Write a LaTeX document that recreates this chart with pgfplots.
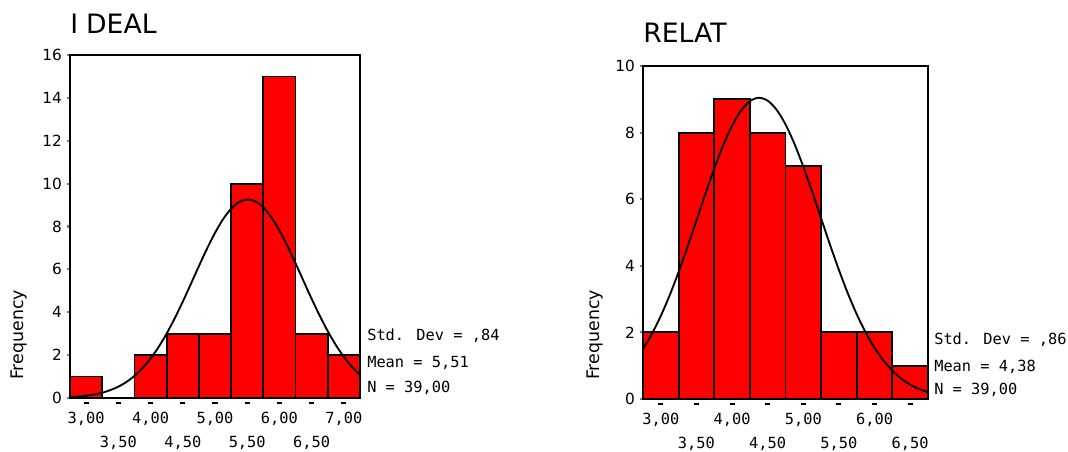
\documentclass[border=0pt]{standalone}
\usepackage{pgfplots}
\pgfplotsset{compat=1.18}
\usepackage{fontspec}
\setmainfont{DejaVu Sans}
\newfontfamily\monof{DejaVu Sans Mono}

% 1 px of the reference = 0.75pt
\pgfplotsset{
  spss/.style={
    scale only axis,
    axis line style={line width=1.5pt},
    ymin=0,
    ytick pos=left,
    tick align=outside,
    major tick length=2.5pt,
    ytick style={line width=1.6pt},
    xtick style={draw=none},
    yticklabel style={font=\fontsize{11.5}{13}\selectfont},
    /pgf/number format/assume math mode=true,
    xticklabel style={font=\monof\fontsize{11.5}{13}\selectfont, anchor=center, yshift=-13.5pt},
    extra x tick style={xticklabel style={yshift=-18pt}},
    xtick={3,4,5,6,7},
    extra x ticks={3.5,4.5,5.5,6.5},
    extra x tick labels={{3,50},{4,50},{5,50},{6,50}},
    clip=false,
  },
  bars/.style={ybar, bar width=0.5, fill=red, draw=black, line width=1.4pt},
  curve/.style={black, line width=1.4pt, smooth, mark=none},
  dashes/.style={only marks, mark=-, mark size=1.9pt, mark options={line width=1.5pt, black}},
}
\tikzset{stat/.style={anchor=west, font=\monof\fontsize{11.5}{13}\selectfont, inner sep=0pt}}

\begin{document}
\begin{tikzpicture}
\path[use as bounding box] (0,0) rectangle (801pt,-339pt);

% ---------------- IDEAL ----------------
\begin{axis}[spss,
  at={(52.5pt,-298.5pt)}, anchor=south west,
  width=217.5pt, height=257.25pt,
  xmin=2.75, xmax=7.25, ymax=16,
  ytick={0,2,...,16},
  xticklabels={{3,00},{4,00},{5,00},{6,00},{7,00}},
]
\addplot[bars] coordinates {
  (3.0,1) (4.0,2) (4.5,3) (5.0,3) (5.5,10) (6.0,15) (6.5,3) (7.0,2)
};
\addplot[curve] coordinates {
  (2.75,0.042) (2.875,0.068) (3.0,0.107) (3.125,0.165) (3.25,0.248)
  (3.375,0.367) (3.5,0.529) (3.625,0.747) (3.75,1.032) (3.875,1.393)
  (4.0,1.841) (4.125,2.378) (4.25,3.007) (4.375,3.718) (4.5,4.494)
  (4.625,5.317) (4.75,6.150) (4.875,6.960) (5.0,7.703) (5.125,8.338)
  (5.25,8.828) (5.375,9.143) (5.5,9.260) (5.625,9.175) (5.75,8.891)
  (5.875,8.427) (6.0,7.813) (6.125,7.084) (6.25,6.283) (6.375,5.450)
  (6.5,4.624) (6.625,3.838) (6.75,3.115) (6.875,2.473) (7.0,1.921)
  (7.125,1.459) (7.25,1.084)
};
\addplot[dashes] coordinates {
  (3,-0.22) (3.5,-0.22) (4,-0.22) (4.5,-0.22) (5,-0.22)
  (5.5,-0.22) (6,-0.22) (6.5,-0.22) (7,-0.22)
};
\end{axis}

% ---------------- RELAT ----------------
\begin{axis}[spss,
  at={(482.25pt,-299.25pt)}, anchor=south west,
  width=213.75pt, height=249.75pt,
  xmin=2.75, xmax=6.75, ymax=10,
  ytick={0,2,...,10},
  xtick={3,4,5,6},
  xticklabels={{3,00},{4,00},{5,00},{6,00}},
]
\addplot[bars] coordinates {
  (3.0,2) (3.5,8) (4.0,9) (4.5,8) (5.0,7) (5.5,2) (6.0,2) (6.5,1)
};
\addplot[curve] coordinates {
  (2.75,1.501) (2.875,1.957) (3.0,2.497) (3.125,3.119) (3.25,3.816)
  (3.375,4.570) (3.5,5.360) (3.625,6.153) (3.75,6.917) (3.875,7.614)
  (4.0,8.205) (4.125,8.657) (4.25,8.943) (4.375,9.046) (4.5,8.958)
  (4.625,8.686) (4.75,8.246) (4.875,7.666) (5.0,6.975) (5.125,6.216)
  (5.25,5.423) (5.375,4.633) (5.5,3.874) (5.625,3.172) (5.75,2.544)
  (5.875,1.996) (6.0,1.534) (6.125,1.155) (6.25,0.851) (6.375,0.614)
  (6.5,0.433) (6.625,0.300) (6.75,0.203)
};
\addplot[dashes] coordinates {
  (3,-0.14) (3.5,-0.14) (4,-0.14) (4.5,-0.14) (5,-0.14)
  (5.5,-0.14) (6,-0.14) (6.5,-0.14)
};
\end{axis}

% titles
\node[anchor=base west, inner sep=0pt, font=\fontsize{20}{24}\selectfont] at (52.5pt,-25.5pt) {I\kern0.3em DEAL};
\node[anchor=base west, inner sep=0pt, font=\fontsize{20}{24}\selectfont] at (482.25pt,-32.25pt) {RELAT};

% y labels
\node[rotate=90, anchor=west, inner sep=0pt, font=\fontsize{13}{15}\selectfont] at (14.25pt,-285pt) {Frequency};
\node[rotate=90, anchor=west, inner sep=0pt, font=\fontsize{13}{15}\selectfont] at (446.25pt,-285pt) {Frequency};

% statistics
\node[stat] at (275.25pt,-252pt) {Std. Dev = ,84};
\node[stat] at (275.25pt,-272.25pt) {Mean = 5,51};
\node[stat] at (275.25pt,-291pt) {N = 39,00};
\node[stat] at (700.5pt,-255pt) {Std. Dev = ,86};
\node[stat] at (700.5pt,-275.25pt) {Mean = 4,38};
\node[stat] at (700.5pt,-292.5pt) {N = 39,00};
\end{tikzpicture}
\end{document}
